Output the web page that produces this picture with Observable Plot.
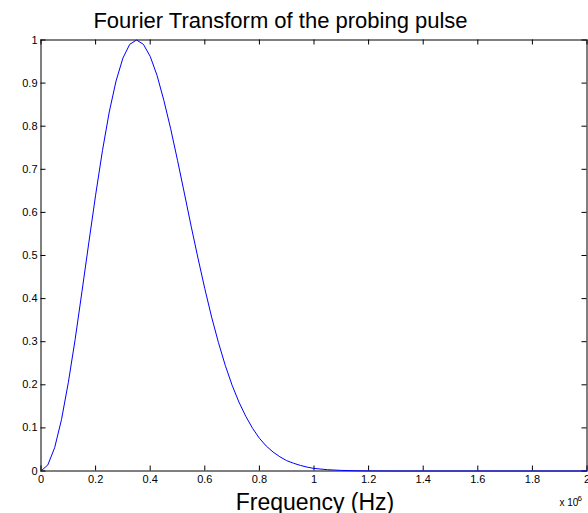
<!DOCTYPE html>
<html><head><meta charset="utf-8">
<script src="https://cdn.jsdelivr.net/npm/d3@7"></script>
<script src="https://cdn.jsdelivr.net/npm/@observablehq/plot@0.6"></script>
<style>html,body{margin:0;padding:0;background:#fff} svg{display:block}</style>
</head><body><div id="chart"></div>
<script>
// Frequency in units of 10^6 Hz
const freq = [0, 0.025, 0.05, 0.075, 0.1, 0.125, 0.15, 0.175, 0.2, 0.225, 0.25, 0.275, 0.3, 0.325, 0.35,
  0.375, 0.4, 0.425, 0.45, 0.475, 0.5, 0.525, 0.55, 0.575, 0.6, 0.625, 0.65, 0.675, 0.7, 0.725, 0.75,
  0.775, 0.8, 0.825, 0.85, 0.875, 0.9, 0.925, 0.95, 0.975, 1.0, 1.05, 1.1, 1.15, 1.2, 1.3, 1.4, 1.6, 1.8, 2.0];
const amplitude = [0, 0.014, 0.054, 0.119, 0.205, 0.305, 0.416, 0.529, 0.640, 0.743, 0.833, 0.905, 0.958, 0.990, 1.0,
  0.990, 0.962, 0.918, 0.860, 0.794, 0.721, 0.645, 0.568, 0.494, 0.423, 0.357, 0.298, 0.245, 0.199, 0.160, 0.127,
  0.099, 0.076, 0.058, 0.044, 0.033, 0.024, 0.018, 0.013, 0.009, 0.006, 0.003, 0.0014, 0.0006, 0.0002, 0, 0, 0, 0, 0];
const xTicks = [0, 0.2, 0.4, 0.6, 0.8, 1, 1.2, 1.4, 1.6, 1.8, 2];
const yTicks = [0, 0.1, 0.2, 0.3, 0.4, 0.5, 0.6, 0.7, 0.8, 0.9, 1];
const xTickLabels = ["0", "0.2", "0.4", "0.6", "0.8", "1", "1.2", "1.4", "1.6", "1.8", "2"];
const yTickLabels = ["0", "0.1", "0.2", "0.3", "0.4", "0.5", "0.6", "0.7", "0.8", "0.9", "1"];
const titleText = "Fourier Transform of the probing pulse";
const xLabelText = "Frequency (Hz)";
const exponentBase = "x 10";
const exponentPower = "6";

const data = freq.map((f, i) => ({f, a: amplitude[i]}));
const W = 588, H = 513, mL = 40.5, mR = 1.5, mT = 39.5, mB = 42.5;
const frameH = H - mT - mB, frameW = W - mL - mR;
const tickLen = 5;
const font = "Arial, 'Liberation Sans', Helvetica, sans-serif";

const chart = Plot.plot({
  width: W, height: H,
  marginLeft: mL, marginRight: mR, marginTop: mT, marginBottom: mB,
  style: {fontFamily: font, background: "#fff", color: "#000", overflow: "hidden"},
  x: {domain: [0, 2]},
  y: {domain: [0, 1]},
  marks: [
    Plot.tickX(xTicks, {x: d => d, insetTop: frameH - tickLen, stroke: "#000"}),
    Plot.tickX(xTicks, {x: d => d, insetBottom: frameH - tickLen, stroke: "#000"}),
    Plot.tickY(yTicks, {y: d => d, insetRight: frameW - tickLen, stroke: "#000"}),
    Plot.tickY(yTicks, {y: d => d, insetLeft: frameW - tickLen, stroke: "#000"}),
    Plot.axisX(xTicks, {tickSize: 0, tickPadding: 4, fontSize: 11, tickFormat: (d, i) => xTickLabels[i], label: null}),
    Plot.axisY(yTicks, {tickSize: 0, tickPadding: 3.5, fontSize: 11, tickFormat: (d, i) => yTickLabels[i], label: null}),
    Plot.frame({stroke: "#000"}),
    Plot.line(data, {x: "f", y: "a", stroke: "#0000ff", strokeWidth: 1}),
    Plot.text([titleText], {frameAnchor: "top", dx: -33.5, dy: -12.5, lineAnchor: "bottom", fontSize: 22, fill: "#000"}),
    Plot.text([xLabelText], {frameAnchor: "bottom", dx: 1, dy: 39, lineAnchor: "bottom", fontSize: 23, fill: "#000"}),
    Plot.text([exponentBase], {frameAnchor: "bottom-right", textAnchor: "start", dx: -27.5, dy: 34.5, lineAnchor: "bottom", fontSize: 10, fill: "#000"}),
    Plot.text([exponentPower], {frameAnchor: "bottom-right", textAnchor: "start", dx: -9.5, dy: 29.5, lineAnchor: "bottom", fontSize: 8, fill: "#000"})
  ]
});
document.getElementById("chart").appendChild(chart);
</script>
</body></html>
